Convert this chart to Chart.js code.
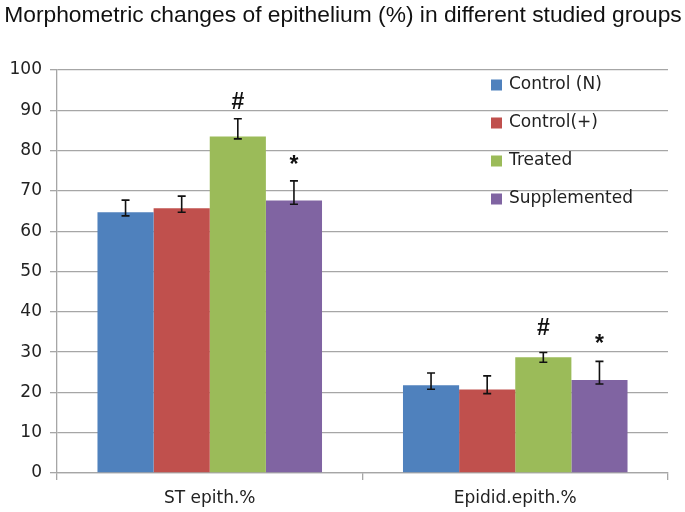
<!DOCTYPE html>
<html>
<head>
<meta charset="utf-8">
<script src="https://cdn.jsdelivr.net/npm/chart.js@4.4.0/dist/chart.umd.min.js"></script>
<style>
  body { margin: 0; background: #fff; }
  #wrap { width: 685px; height: 512px; }
</style>
</head>
<body>
<div id="wrap"><canvas id="chart" width="685" height="512"></canvas></div>
<script>
// data
const title = "Morphometric changes of epithelium (%) in different studied groups";
const groups = ["ST epith.%", "Epidid.epith.%"];
const seriesNames = ["Control (N)", "Control(+)", "Treated", "Supplemented"];
const controlN = [64.7, 21.8];
const controlPos = [65.7, 20.7];
const treated = [83.5, 28.7];
const supplemented = [67.6, 23.1];

// error bars as [low, high]
const controlNErr = [[63.8, 67.7], [20.8, 24.8]];
const controlPosErr = [[64.7, 68.7], [19.7, 24.1]];
const treatedErr = [[82.9, 87.9], [27.5, 29.9]];
const supplementedErr = [[66.7, 72.5], [22.1, 27.7]];

// significance marks and the value they sit at
const treatedMarks = ["#", "#"];
const treatedMarkAt = [91.8, 35.7];
const supplementedMarks = ["*", "*"];
const supplementedMarkAt = [76.2, 31.8];

const yTicks = [0, 10, 20, 30, 40, 50, 60, 70, 80, 90, 100];
const colors = ["#4f81bd", "#c0504d", "#9bbb59", "#8064a2"];
const gridColor = "#a6a6a6";
const font = "DejaVu Sans";

const errorBars = {
  id: "errorBars",
  afterDatasetsDraw(chart) {
    const ctx = chart.ctx;
    const y = chart.scales.y;
    chart.data.datasets.forEach((ds, i) => {
      const meta = chart.getDatasetMeta(i);
      meta.data.forEach((bar, j) => {
        const e = ds.err[j];
        const lo = y.getPixelForValue(e[0]);
        const hi = y.getPixelForValue(e[1]);
        ctx.save();
        ctx.strokeStyle = "#111";
        ctx.lineWidth = 1.6;
        ctx.beginPath();
        ctx.moveTo(bar.x, lo); ctx.lineTo(bar.x, hi);
        ctx.moveTo(bar.x - 4, lo); ctx.lineTo(bar.x + 4, lo);
        ctx.moveTo(bar.x - 4, hi); ctx.lineTo(bar.x + 4, hi);
        ctx.stroke();
        if (ds.marks) {
          ctx.fillStyle = "#111";
          ctx.font = "bold 23px Liberation Sans";
          ctx.textAlign = "center";
          ctx.textBaseline = "middle";
          ctx.fillText(ds.marks[j], bar.x, y.getPixelForValue(ds.markAt[j]));
        }
        ctx.restore();
      });
    });
  }
};

// legend sits on top of the plot, no box; title centred on the whole page
const overlayText = {
  id: "overlayText",
  afterDraw(chart) {
    const ctx = chart.ctx;
    ctx.save();
    ctx.fillStyle = "#111";
    ctx.font = "22.8px Liberation Sans";
    ctx.textAlign = "center";
    ctx.textBaseline = "middle";
    ctx.fillText(title, 343, 16);

    ctx.font = "17px " + font;
    ctx.textAlign = "left";
    chart.data.datasets.forEach((ds, i) => {
      const cy = 85 + i * 38;
      ctx.fillStyle = ds.backgroundColor;
      ctx.fillRect(491, cy - 5.5, 11, 11);
      ctx.fillStyle = "#222";
      ctx.fillText(ds.label, 509, cy);
    });
    ctx.restore();
  }
};

new Chart(document.getElementById("chart"), {
  type: "bar",
  data: {
    labels: groups,
    datasets: [
      { label: seriesNames[0], data: controlN, err: controlNErr, backgroundColor: colors[0] },
      { label: seriesNames[1], data: controlPos, err: controlPosErr, backgroundColor: colors[1] },
      { label: seriesNames[2], data: treated, err: treatedErr, marks: treatedMarks, markAt: treatedMarkAt, backgroundColor: colors[2] },
      { label: seriesNames[3], data: supplemented, err: supplementedErr, marks: supplementedMarks, markAt: supplementedMarkAt, backgroundColor: colors[3] }
    ]
  },
  options: {
    responsive: false,
    animation: false,
    layout: { padding: { top: 70, right: 17 } },
    datasets: { bar: { categoryPercentage: 0.735, barPercentage: 1 } },
    plugins: {
      legend: { display: false },
      tooltip: { enabled: false },
      title: { display: false }
    },
    scales: {
      x: {
        grid: { offset: true, drawOnChartArea: false, tickLength: 7, color: gridColor, lineWidth: 1.3 },
        border: { color: gridColor, width: 1.3 },
        ticks: { color: "#222", font: { family: font, size: 17 }, padding: 8 },
        afterFit(scale) { scale.height = 39; }
      },
      y: {
        min: 0,
        max: 100,
        afterBuildTicks(scale) { scale.ticks = yTicks.map(v => ({ value: v })); },
        grid: { color: gridColor, lineWidth: 1.3, tickLength: 7 },
        border: { color: gridColor, width: 1.3 },
        ticks: { color: "#222", font: { family: font, size: 17 }, padding: 8 },
        afterFit(scale) { scale.width = 57; }
      }
    }
  },
  plugins: [errorBars, overlayText]
});
</script>
</body>
</html>
